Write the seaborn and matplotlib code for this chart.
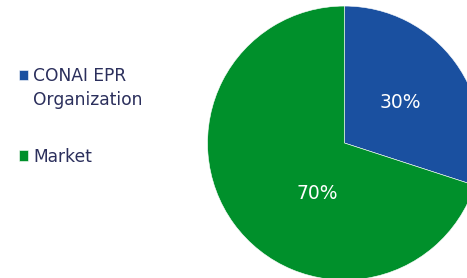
import matplotlib.pyplot as plt
import seaborn as sns
import numpy as np

# data
labels = ['CONAI EPR', 'Market']
label_extra = 'Organization'
shares = [30, 70]
colors = ['#1A50A0', '#00902B']

sns.set_style('white')
plt.rcParams['font.family'] = ['DejaVu Sans']

fig = plt.figure(figsize=(4.67, 2.78), dpi=100)
ax = fig.add_axes([0, 0, 1, 1])

wedges, texts, autotexts = ax.pie(shares, colors=colors, startangle=90, counterclock=False,
                                  autopct='%d%%', pctdistance=0.5,
                                  wedgeprops=dict(edgecolor='white', linewidth=0.4),
                                  textprops=dict(color='white', fontsize=13.5))

# nudge the big slice label toward the lower part of the wedge
ang = np.deg2rad(242)
autotexts[1].set_position((0.42 * np.cos(ang), 0.42 * np.sin(ang)))

ax.set_aspect('equal')
ax.set_xlim(-2.515, 0.894)
ax.set_ylim(-0.985, 1.044)
ax.axis('off')

txt_color = '#2B2F5C'
leg = ax.legend(wedges, labels, loc='upper left', bbox_to_anchor=(0.04, 0.758),
                frameon=False, fontsize=12.3, handlelength=0.55, handleheight=0.55,
                handletextpad=0.3, labelspacing=3.65, borderaxespad=0, borderpad=0)
for t in leg.get_texts():
    t.set_color(txt_color)

# second line of the first legend label, placed under its first line
fig.canvas.draw()
bb = leg.get_texts()[0].get_window_extent()
fig.text(bb.x0 / fig.bbox.width, (bb.y0 - 24) / fig.bbox.height, label_extra,
         fontsize=12.3, color=txt_color, ha='left', va='bottom')

fig.savefig('out.png', dpi=100)
